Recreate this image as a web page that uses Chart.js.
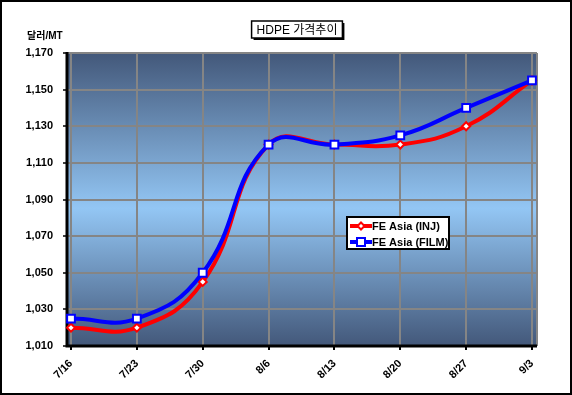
<!DOCTYPE html>
<html>
<head>
<meta charset="utf-8">
<script src="https://cdn.jsdelivr.net/npm/chart.js@4"></script>
<style>
  body { margin: 0; background: #fff; }
</style>
</head>
<body>
<canvas id="c" width="572" height="395"></canvas>
<script>
const weeks = ['7/16', '7/23', '7/30', '8/6', '8/13', '8/20', '8/27', '9/3'];
const injPrice = [1020, 1020, 1045, 1120, 1120, 1120, 1130, 1155];
const filmPrice = [1025, 1025, 1050, 1120, 1120, 1125, 1140, 1155];
const seriesNames = ['FE Asia (INJ)', 'FE Asia (FILM)'];
const chartTitle = 'HDPE 가격추이';
const unitLabel = '달러/MT';

const FONT = '"Liberation Sans", Arial, "Noto Sans CJK KR", sans-serif';

// frame, gradient plot background, horizontal grid, axes, title, legend
const decor = {
  id: 'decor',
  beforeDraw(chart) {
    const ctx = chart.ctx;
    const a = chart.chartArea;
    const L = a.left - 4, R = a.right + 5;
    ctx.save();
    ctx.fillStyle = '#fff';
    ctx.fillRect(0, 0, chart.width, chart.height);
    ctx.strokeStyle = '#000';
    ctx.lineWidth = 2;
    ctx.strokeRect(1, 1, chart.width - 2, chart.height - 2);

    const g = ctx.createLinearGradient(0, a.top, 0, a.bottom);
    g.addColorStop(0, '#43587a');
    g.addColorStop(0.53, '#93c6f4');
    g.addColorStop(1, '#43587a');
    ctx.fillStyle = g;
    ctx.fillRect(L, a.top, R - L, a.bottom - a.top);

    const y = chart.scales.y;
    ctx.strokeStyle = '#858585';
    ctx.lineWidth = 2;
    y.ticks.forEach(t => {
      const py = Math.round(y.getPixelForValue(t.value));
      ctx.beginPath();
      ctx.moveTo(L, py);
      ctx.lineTo(R, py);
      ctx.stroke();
    });
    ctx.beginPath();
    ctx.moveTo(R, a.top);
    ctx.lineTo(R, a.bottom);
    ctx.stroke();
    ctx.restore();
  },
  beforeDatasetsDraw(chart) {
    const ctx = chart.ctx;
    const a = chart.chartArea;
    const L = a.left - 4, R = a.right + 5;
    const y = chart.scales.y;
    ctx.save();
    ctx.strokeStyle = '#000';
    ctx.lineWidth = 3;
    ctx.beginPath();
    ctx.moveTo(L, a.top - 1);
    ctx.lineTo(L, a.bottom);
    ctx.lineTo(R, a.bottom);
    ctx.stroke();
    ctx.lineWidth = 1.5;
    y.ticks.forEach(t => {
      const py = Math.round(y.getPixelForValue(t.value));
      ctx.beginPath();
      ctx.moveTo(L - 4, py);
      ctx.lineTo(L, py);
      ctx.stroke();
    });
    ctx.restore();
  },
  afterDraw(chart) {
    const ctx = chart.ctx;
    ctx.save();
    // unit label
    ctx.fillStyle = '#000';
    ctx.font = 'bold 10px ' + FONT;
    ctx.textBaseline = 'middle';
    ctx.fillText(unitLabel, 27, 36);

    // title box
    ctx.font = '12px ' + FONT;
    const tw = ctx.measureText(chartTitle).width;
    const bx = 297 - tw / 2 - 5, by = 21, bw = tw + 10, bh = 17;
    ctx.fillStyle = '#000';
    ctx.fillRect(bx + 2, by + 2, bw, bh);
    ctx.fillStyle = '#fff';
    ctx.fillRect(bx, by, bw, bh);
    ctx.strokeStyle = '#000';
    ctx.lineWidth = 1.5;
    ctx.strokeRect(bx, by, bw, bh);
    ctx.fillStyle = '#000';
    ctx.textAlign = 'center';
    ctx.fillText(chartTitle, 297, by + bh / 2 + 1);

    // legend
    const lx = 347, ly = 217, lw = 102, lh = 32;
    ctx.fillStyle = '#fff';
    ctx.fillRect(lx, ly, lw, lh);
    ctx.lineWidth = 2;
    ctx.strokeStyle = '#000';
    ctx.strokeRect(lx, ly, lw, lh);
    ctx.textAlign = 'left';
    ctx.font = 'bold 11px ' + FONT;
    chart.data.datasets.forEach((ds, i) => {
      const yy = ly + 9 + i * 16;
      ctx.strokeStyle = ds.borderColor;
      ctx.lineWidth = 4;
      ctx.beginPath();
      ctx.moveTo(lx + 3, yy);
      ctx.lineTo(lx + 25, yy);
      ctx.stroke();
      ctx.fillStyle = '#fff';
      ctx.lineWidth = 2;
      if (ds.pointStyle === 'rect') {
        ctx.fillRect(lx + 10, yy - 4, 8, 8);
        ctx.strokeRect(lx + 10, yy - 4, 8, 8);
      } else {
        ctx.beginPath();
        ctx.moveTo(lx + 14, yy - 3.5);
        ctx.lineTo(lx + 17.5, yy);
        ctx.lineTo(lx + 14, yy + 3.5);
        ctx.lineTo(lx + 10.5, yy);
        ctx.closePath();
        ctx.fill();
        ctx.stroke();
      }
      ctx.fillStyle = '#000';
      ctx.fillText(ds.label, lx + 25, yy + 1);
    });
    ctx.restore();
  }
};

new Chart(document.getElementById('c'), {
  type: 'line',
  data: {
    labels: weeks,
    datasets: [
      {
        label: seriesNames[0],
        data: injPrice,
        borderColor: '#ff0000',
        borderWidth: 4,
        pointStyle: 'rectRot',
        pointRadius: 4,
        pointBorderWidth: 2,
        pointBackgroundColor: '#fff',
        pointBorderColor: '#ff0000',
        tension: 0.45,
        clip: false,
        order: 2
      },
      {
        label: seriesNames[1],
        data: filmPrice,
        borderColor: '#0000ff',
        borderWidth: 4,
        pointStyle: 'rect',
        pointRadius: 5.5,
        pointBorderWidth: 2,
        pointBackgroundColor: '#fff',
        pointBorderColor: '#0000ff',
        tension: 0.45,
        clip: false,
        order: 1
      }
    ]
  },
  options: {
    responsive: false,
    animation: false,
    layout: { padding: { left: 0, right: 40, top: 53, bottom: 0 } },
    plugins: {
      legend: { display: false },
      tooltip: { enabled: false }
    },
    scales: {
      x: {
        offset: false,
        border: { display: false },
        grid: { color: '#858585', lineWidth: 2, tickLength: 4, tickColor: '#000' },
        ticks: {
          color: '#000',
          font: { family: FONT, size: 11, weight: 'bold' },
          minRotation: 45,
          maxRotation: 45,
          padding: 7
        },
        afterFit(s) { s.height = 49; }
      },
      y: {
        min: 1010,
        max: 1170,
        border: { display: false },
        grid: { display: false, drawTicks: false },
        ticks: {
          stepSize: 20,
          color: '#000',
          font: { family: FONT, size: 11, weight: 'bold' },
          padding: 18,
          callback: v => v.toLocaleString('en-US')
        },
        afterFit(s) { s.width = 71; }
      }
    }
  },
  plugins: [decor]
});
</script>
</body>
</html>
